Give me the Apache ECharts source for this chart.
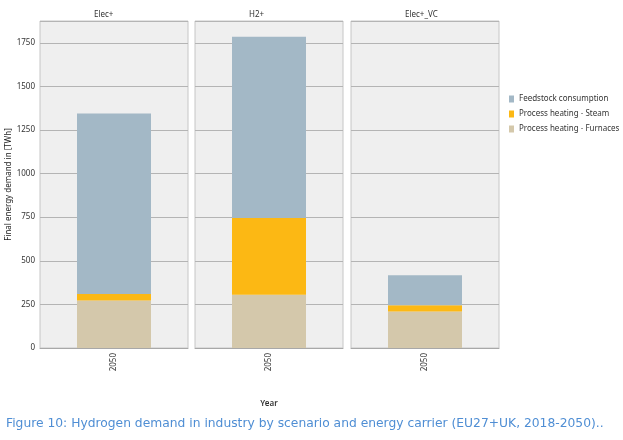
<!DOCTYPE html>
<html>
<head>
<meta charset="utf-8">
<script src="https://cdn.jsdelivr.net/npm/echarts@6/dist/echarts.min.js"></script>
<style>
  html, body { margin: 0; padding: 0; background: #fff; }
  #chart { width: 623px; height: 440px; }
</style>
</head>
<body>
<div id="chart"></div>
<script>
let scenarios = ["Elec+", "H2+", "Elec+_VC"];
let years = ["2050"];
let feedstock = [1035, 1040, 172];
let steam = [37, 440, 35];
let furnaces = [273, 305, 210];
let seriesNames = ["Feedstock consumption", "Process heating - Steam", "Process heating - Furnaces"];
let colors = ["#a3b8c6", "#fcb814", "#d4c8ab"];

let chart = echarts.init(document.getElementById("chart"));
let font = "'Noto Sans', sans-serif";

let panelLeft = [40, 195, 351];
let panelWidth = 148;

let grids = [];
let xAxes = [];
let yAxes = [];
let series = [];
let texts = [];

scenarios.forEach(function (name, i) {
    grids.push({
        left: panelLeft[i],
        top: 21,
        width: panelWidth,
        height: 327,
        show: true,
        backgroundColor: "#efefef",
        borderColor: "#c6c6c6",
        borderWidth: 1,
    });
    xAxes.push({
        type: "category",
        gridIndex: i,
        data: years,
        axisLine: { lineStyle: { color: "#a8a8a8" } },
        axisTick: { show: false },
        axisLabel: { rotate: 90, fontSize: 8, color: "#333", fontFamily: font, margin: 5 },
        name: i === 1 ? "Year" : "",
        nameLocation: "middle",
        nameGap: 52,
        nameTextStyle: { fontSize: 8, color: "#333", fontFamily: font, fontWeight: 600 },
    });
    yAxes.push({
        type: "value",
        gridIndex: i,
        min: 0,
        max: 1875,
        interval: 250,
        axisLine: { show: false },
        axisTick: { show: false },
        axisLabel: {
            show: i === 0,
            fontSize: 8,
            color: "#333",
            fontFamily: font,
            showMaxLabel: false,
            margin: 5,
            formatter: function (v) { return String(v); },
        },
        splitLine: { lineStyle: { color: "#b4b4b4" } },
        name: i === 0 ? "Final energy demand in [TWh]" : "",
        nameLocation: "middle",
        nameRotate: 90,
        nameGap: 24,
        nameTextStyle: { fontSize: 8, color: "#222", fontFamily: font },
    });
    let stackName = "s" + i;
    [
        [seriesNames[2], furnaces[i], colors[2]],
        [seriesNames[1], steam[i], colors[1]],
        [seriesNames[0], feedstock[i], colors[0]],
    ].forEach(function (s) {
        series.push({
            name: s[0],
            type: "bar",
            xAxisIndex: i,
            yAxisIndex: i,
            stack: stackName,
            barWidth: "50%",
            itemStyle: { color: s[2] },
            data: [s[1]],
        });
    });
    texts.push({
        type: "text",
        left: panelLeft[i] + panelWidth / 2 - 20,
        top: 11,
        style: {
            text: name,
            width: 40,
            align: "center",
            fontSize: 8,
            fontFamily: font,
            fill: "#333",
        },
    });
});

texts.push({
    type: "text",
    left: 6,
    top: 418,
    style: {
        text: "Figure 10: Hydrogen demand in industry by scenario and energy carrier (EU27+UK, 2018-2050)..",
        fontSize: 12.3,
        fontFamily: "'DejaVu Sans', sans-serif",
        fill: "#4f8ed4",
    },
});

let options = {
    animation: false,
    color: colors,
    grid: grids,
    xAxis: xAxes,
    yAxis: yAxes,
    legend: {
        orient: "vertical",
        left: 504,
        top: 90,
        itemWidth: 5,
        itemHeight: 7,
        itemGap: 7,
        icon: "rect",
        data: seriesNames,
        textStyle: { fontSize: 8, color: "#333", fontFamily: font },
    },
    graphic: texts,
    series: series,
};
chart.setOption(options);
</script>
</body>
</html>
